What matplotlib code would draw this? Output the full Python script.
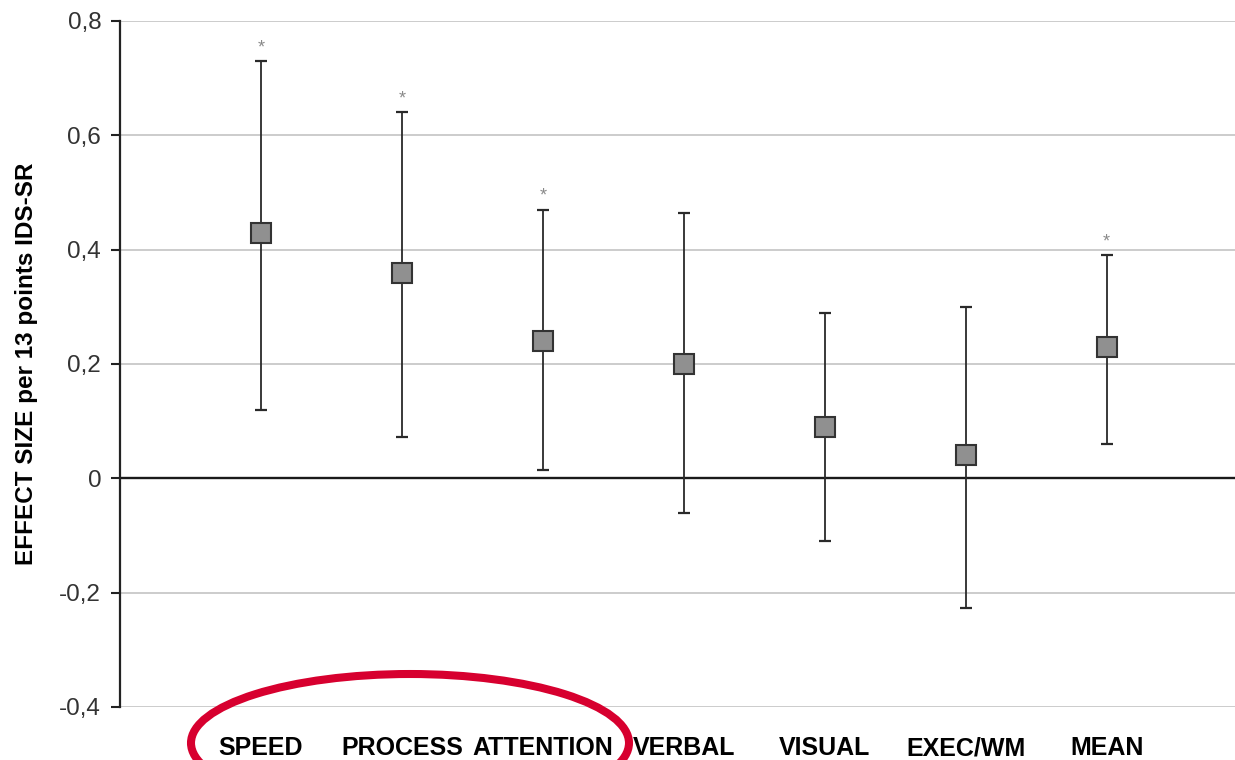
import matplotlib
matplotlib.use("Agg")
import matplotlib.pyplot as plt
from matplotlib.patches import Ellipse
import numpy as np

categories = ["SPEED", "PROCESS", "ATTENTION", "VERBAL", "VISUAL", "EXEC/WM", "MEAN"]
effect = [0.43, 0.36, 0.24, 0.20, 0.09, 0.04, 0.23]
upper = [0.73, 0.64, 0.47, 0.465, 0.29, 0.30, 0.39]
lower = [0.12, 0.072, 0.014, -0.06, -0.11, -0.227, 0.06]
significant = [True, True, True, False, False, False, True]
yticks = [-0.4, -0.2, 0.0, 0.2, 0.4, 0.6, 0.8]
ytick_labels = ["-0,4", "-0,2", "0", "0,2", "0,4", "0,6", "0,8"]
ylabel = "EFFECT SIZE per 13 points IDS-SR"

plt.rcParams['font.family'] = ['Liberation Sans', 'DejaVu Sans']

fig = plt.figure(figsize=(12.35, 7.6), dpi=100)
ax = fig.add_axes([120/1235, 1 - 707/760, 1 - 120/1235, (707 - 21)/760])

x = np.arange(len(categories))
eff = np.array(effect)
up = np.array(upper)
lo = np.array(lower)

ax.set_xlim(-1.0, 6.91)
ax.set_ylim(-0.4, 0.8)

# gridlines
for t in yticks:
    if t != 0:
        ax.axhline(t, color="#c8c8c8", lw=1.3, zorder=0)
ax.axhline(0, color="#1a1a1a", lw=1.7, zorder=1)

ax.errorbar(x, eff, yerr=[eff - lo, up - eff], fmt='none', ecolor="#2a2a2a",
            elinewidth=1.3, capsize=4.2, capthick=1.6, zorder=2)
ax.plot(x, eff, linestyle='none', marker='s', markersize=15, markerfacecolor="#909090",
        markeredgecolor="#333333", markeredgewidth=1.5, zorder=3)

for xi, ui, s in zip(x, up, significant):
    if s:
        ax.annotate("*", xy=(xi, ui), xytext=(0, 3.5), textcoords='offset points',
                    ha='center', va='bottom', fontsize=13, color="#8a8a8a")

for side in ["top", "right", "bottom"]:
    ax.spines[side].set_visible(False)
ax.spines["left"].set_color("#222222")
ax.spines["left"].set_linewidth(1.6)

ax.set_yticks(yticks)
ax.set_yticklabels(ytick_labels)
ax.tick_params(axis='y', direction='out', length=6.5, width=1.5, color="#222222",
               labelsize=17.5, labelcolor="#333333", pad=7)
ax.set_xticks(x)
ax.set_xticklabels(categories, fontweight='bold', fontsize=18)
ax.tick_params(axis='x', length=0, pad=21, labelcolor="black")

ax.set_ylabel(ylabel, fontweight='bold', fontsize=17.5, labelpad=0)
ax.yaxis.set_label_coords(-82/1115, 0.5)

ell = Ellipse((4.10, 0.17), 4.38, 1.38, transform=fig.dpi_scale_trans,
              fill=False, edgecolor="#d7002f", lw=5.8, clip_on=False)
fig.add_artist(ell)

fig.savefig("out.png", dpi=100)
